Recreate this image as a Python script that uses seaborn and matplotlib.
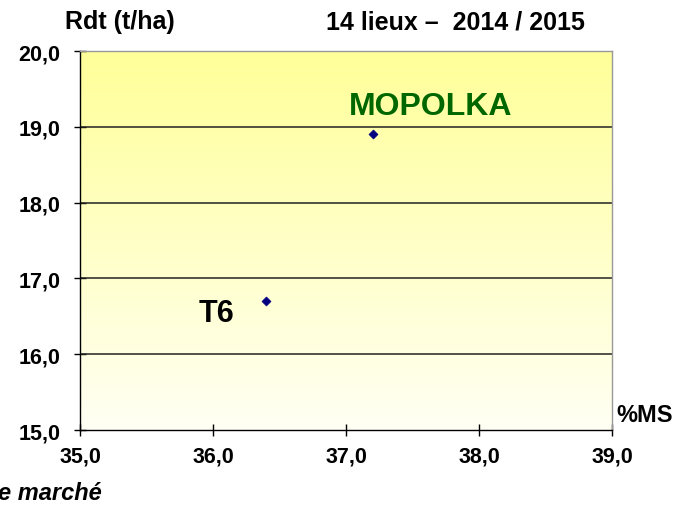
import numpy as np
import pandas as pd
import matplotlib
matplotlib.use("Agg")
import matplotlib.pyplot as plt
import seaborn as sns
from matplotlib.colors import LinearSegmentedColormap
from matplotlib.ticker import FuncFormatter

sns.set_style("white")
plt.rcParams['font.family'] = ['Liberation Sans', 'DejaVu Sans']
plt.rcParams['text.color'] = 'black'
plt.rcParams['xtick.color'] = 'black'
plt.rcParams['ytick.color'] = 'black'

# data
varietes = ["MOPOLKA", "T6"]
ms = [37.2, 36.4]
rdt = [18.9, 16.7]

df = pd.DataFrame({"variete": varietes, "ms": ms, "rdt": rdt})

fig = plt.figure(figsize=(6.79, 5.06), dpi=100)
ax = fig.add_axes([0.1178, 0.1482, 0.7835, 0.749])

# yellow gradient background
cmap = LinearSegmentedColormap.from_list("jaune", ["#fffff4", "#ffff99"])
grad = np.linspace(0, 1, 256).reshape(-1, 1)
ax.imshow(grad, extent=[35, 39, 15, 20], origin="lower", aspect="auto",
          cmap=cmap, zorder=0)

for y in [16, 17, 18, 19]:
    ax.axhline(y, color="#222222", lw=1.1, zorder=1)

sns.scatterplot(data=df, x="ms", y="rdt", marker="D", s=22, color="#000080",
                edgecolor="#000080", ax=ax, zorder=3, legend=False)

ax.set_xlim(35, 39)
ax.set_ylim(15, 20)
ax.set_xticks([35, 36, 37, 38, 39])
ax.set_yticks([15, 16, 17, 18, 19, 20])
fmt = FuncFormatter(lambda v, p: f"{v:.1f}".replace(".", ","))
ax.xaxis.set_major_formatter(fmt)
ax.yaxis.set_major_formatter(fmt)
ax.tick_params(axis="both", which="major", direction="inout", length=8, width=1,
               color="black", labelcolor="black", labelsize=15.5,
               bottom=True, left=True)
ax.tick_params(axis="x", pad=7)
ax.tick_params(axis="y", pad=10)
for lab in ax.get_xticklabels() + ax.get_yticklabels():
    lab.set_fontweight("bold")
ax.set_xlabel("")
ax.set_ylabel("")

for side in ["left", "bottom"]:
    ax.spines[side].set_color("black")
    ax.spines[side].set_linewidth(1)
for side in ["top", "right"]:
    ax.spines[side].set_color("#999999")
    ax.spines[side].set_linewidth(1)

# labels of the points
ax.text(37.64, 19.28, "MOPOLKA", color="#006600", fontsize=23, fontweight="bold",
        ha="center", va="center")
ax.text(36.03, 16.54, "T6", color="black", fontsize=22,
        fontweight="bold", ha="center", va="center")

fig.text(120 / 679, 1 - 22 / 506, "Rdt (t/ha)", fontsize=18, fontweight="bold",
         ha="center", va="center")
fig.text(455 / 679, 1 - 22 / 506, "14 lieux \u2013  2014 / 2015", fontsize=18,
         fontweight="bold", ha="center", va="center")
fig.text(645 / 679, 1 - 415 / 506, "%MS", fontsize=17, fontweight="bold",
         ha="center", va="center")
fig.text(-2 / 679, 1 - 494 / 506, "e marché", fontsize=17, fontweight="bold",
         style="italic", ha="left", va="center")

fig.savefig("out.png", dpi=100)
